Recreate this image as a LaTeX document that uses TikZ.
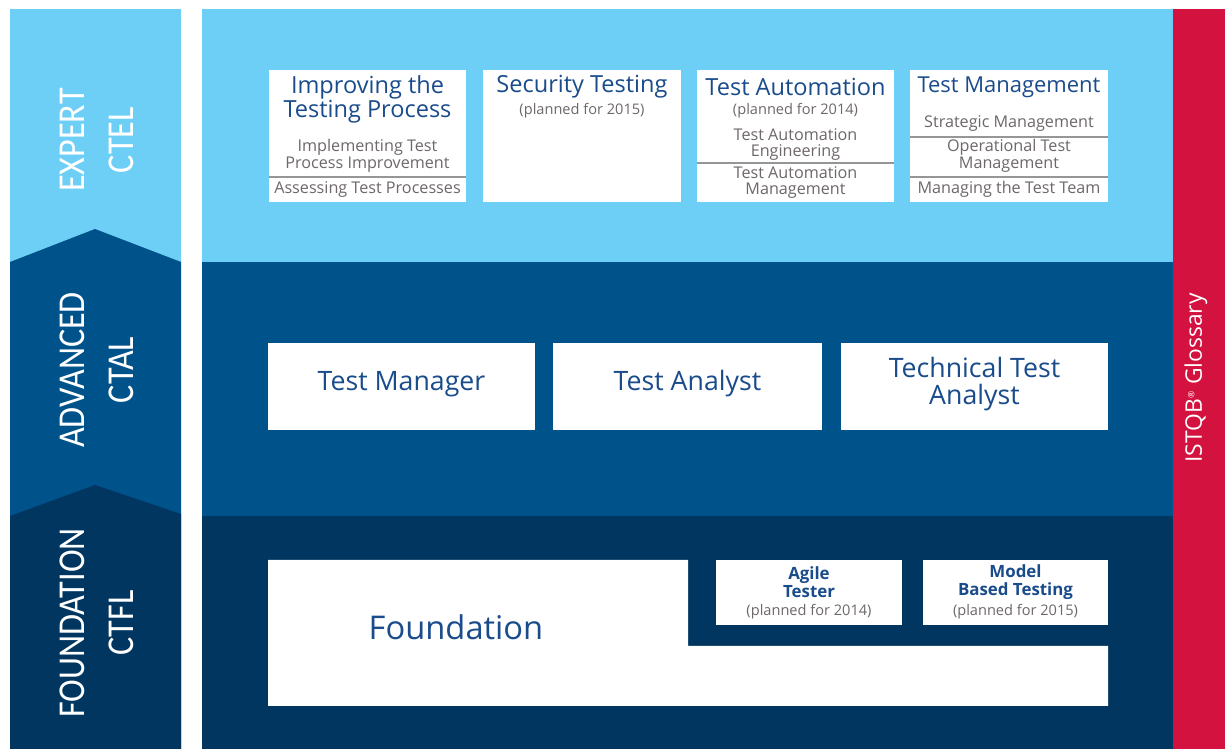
\documentclass[tikz,border=0pt]{standalone}
\usepackage{fontspec}
\setmainfont{Open Sans}
\newfontfamily\lblfont[FakeStretch=0.9]{Carlito}
\usetikzlibrary{positioning}

\definecolor{expertblue}{RGB}{109,207,246}
\definecolor{advblue}{RGB}{0,82,138}
\definecolor{foundblue}{RGB}{0,54,96}
\definecolor{glossred}{RGB}{211,18,63}
\definecolor{titleblue}{RGB}{26,76,140}
\definecolor{subgray}{RGB}{110,104,104}
\definecolor{rulegray}{RGB}{150,150,150}

\tikzset{
  ttltext/.style={text=titleblue, align=center, inner sep=0pt, font=\fontsize{13.4}{13.4}\selectfont},
  subtext/.style={text=subgray, align=center, inner sep=0pt, font=\fontsize{9.2}{9.4}\selectfont},
  plantext/.style={text=subgray, inner sep=0pt, font=\fontsize{8.3}{9}\selectfont},
  advtext/.style={text=titleblue, align=center, inner sep=0pt, font=\fontsize{15.2}{15.2}\selectfont},
  smalltitle/.style={text=titleblue, align=center, inner sep=0pt, font=\bfseries\fontsize{9.6}{10.4}\selectfont},
  sidelbl/.style={text=white, align=center, rotate=90, inner sep=0pt, font=\lblfont\fontsize{21.6}{27.8}\selectfont},
  divline/.style={draw=rulegray, line width=0.6pt},
}

\begin{document}
\begin{tikzpicture}[x=0.02cm, y=-0.02cm]
  %%%%% START %%%%%
  \useasboundingbox (0,0) rectangle (1225,749);

  % left column with chevrons
  \fill[expertblue] (10,9) rectangle (181,749);
  \fill[advblue] (10,262) -- (95,229) -- (181,262) -- (181,749) -- (10,749) -- cycle;
  \fill[foundblue] (10,516) -- (95,485) -- (181,514) -- (181,749) -- (10,749) -- cycle;

  % main panel and glossary bar
  \fill[expertblue] (202,9) rectangle (1173,262);
  \fill[advblue] (202,262) rectangle (1173,516);
  \fill[foundblue] (202,516) rectangle (1173,749);
  \fill[glossred] (1173,9) rectangle (1225,749);

  \node[sidelbl] (expertlbl) at (97,140) {EXPERT\\CTEL};
  \node[sidelbl] (advlbl) at (97,370) {ADVANCED\\CTAL};
  \node[sidelbl] (foundlbl) at (97,623) {FOUNDATION\\CTFL};
  \node[text=white, rotate=90, inner sep=0pt, font=\fontsize{13}{14}\selectfont] (glossary) at (1196,378) {ISTQB\textsuperscript{\tiny\textregistered} Glossary};

  % expert boxes
  \fill[white] (269,70) rectangle (466,202);
  \fill[white] (483,70) rectangle (681,202);
  \fill[white] (697,70) rectangle (894,202);
  \fill[white] (910,70) rectangle (1108,202);
  \draw[divline] (269,177) -- (466,177);
  \draw[divline] (697,163) -- (894,163);
  \draw[divline] (910,137) -- (1108,137);
  \draw[divline] (910,177) -- (1108,177);

  \node[ttltext] (itp) at (367.5,99.5) {Improving the\\Testing Process};
  \node[subtext] (itpimpl) at (367.5,156) {Implementing Test\\Process Improvement};
  \node[subtext] (itpass) at (367.5,189.5) {Assessing Test Processes};

  \node[ttltext] (sec) at (582,87) {Security Testing};
  \node[plantext] (secplan) at (582,110.5) {(planned for 2015)};

  \node[ttltext] (tau) at (795.5,87) {Test Automation};
  \node[plantext] (tauplan) at (795.5,110.5) {(planned for 2014)};
  \node[subtext] (taueng) at (795.5,144.5) {Test Automation\\Engineering};
  \node[subtext] (taumgt) at (795.5,182.5) {Test Automation\\Management};

  \node[ttltext, font=\fontsize{12.5}{13}\selectfont] (tm) at (1009,87) {Test Management};
  \node[subtext] (tmstrat) at (1009,124) {Strategic Management};
  \node[subtext] (tmop) at (1009,156) {Operational Test\\Management};
  \node[subtext] (tmteam) at (1009,189.5) {Managing the Test Team};

  % advanced boxes
  \node[fill=white, minimum width=267*0.02cm, minimum height=87*0.02cm, inner sep=0pt] (mgrbox) at (401.5,386.5) {};
  \node[fill=white, minimum width=269*0.02cm, minimum height=87*0.02cm, inner sep=0pt] (anabox) at (687.5,386.5) {};
  \node[fill=white, minimum width=267*0.02cm, minimum height=87*0.02cm, inner sep=0pt] (ttabox) at (974.5,386.5) {};
  \node[advtext] (mgr) at (401.5,384) {Test Manager};
  \node[advtext] (ana) at (687.5,384) {Test Analyst};
  \node[advtext] (tta) at (974.5,384) {Technical Test\\Analyst};

  % foundation
  \fill[white] (268,560) -- (688,560) -- (688,646) -- (1108,646) -- (1108,706) -- (268,706) -- cycle;
  \fill[white] (716,560) rectangle (902,625);
  \fill[white] (923,560) rectangle (1108,625);
  \node[text=titleblue, inner sep=0pt, font=\fontsize{18.6}{20}\selectfont] (fnd) at (456,627) {Foundation};
  \node[smalltitle] (agile) at (809,582) {Agile\\Tester};
  \node[plantext] (agileplan) at (809,612) {(planned for 2014)};
  \node[smalltitle] (mbt) at (1015.5,582) {Model\\Based Testing};
  \node[plantext] (mbtplan) at (1015.5,612) {(planned for 2015)};

  %%%%% END %%%%%
\end{tikzpicture}
\end{document}
